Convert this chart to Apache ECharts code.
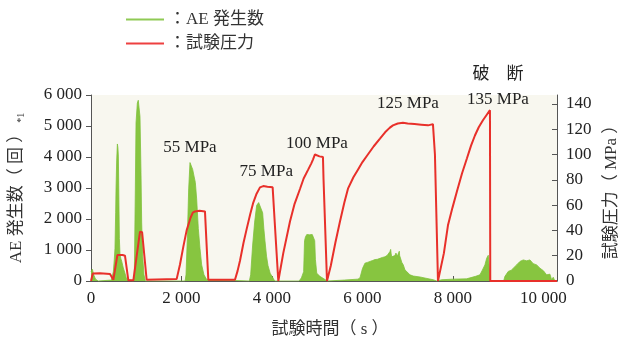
<!DOCTYPE html>
<html>
<head>
<meta charset="utf-8">
<script src="https://cdn.jsdelivr.net/npm/echarts@6/dist/echarts.min.js"></script>
<style>
  html, body { margin: 0; padding: 0; background: #ffffff; }
  #chart { width: 628px; height: 343px; }
</style>
</head>
<body>
<div id="chart"></div>
<script>
// AE event counts over the test (time in s, count)
const aeTime = [0, 30, 60, 100, 160, 450, 494, 515, 530, 545, 553, 568, 583, 595, 605, 615, 627, 641, 660, 678, 714, 751, 788, 820,
  940, 958, 980, 995, 1024, 1045, 1060, 1083, 1105, 1120, 1142, 1171, 1201,
  2080, 2100, 2129, 2159, 2188, 2217, 2247, 2276, 2306, 2335, 2372, 2409, 2446, 2497, 2556, 2600,
  3500, 3529, 3573, 3617, 3662, 3706, 3750, 3794, 3820, 3845, 3880, 3912, 3960, 4022, 4060,
  4600, 4650, 4700, 4720, 4740, 4770, 4800, 4830, 4860, 4890, 4920, 4945, 4960, 4990, 5060, 5170, 5220,
  5600, 5900, 5945, 6000, 6055, 6110, 6166, 6220, 6276, 6330, 6387, 6440, 6497, 6550, 6608, 6623, 6635, 6645, 6680, 6718,
  6740, 6755, 6770, 6777, 6795, 6814, 6822, 6829, 6870, 6903, 6939, 6976, 7050, 7123, 7271, 7400, 7566, 7640,
  7750, 8000, 8300, 8500, 8597, 8650, 8707, 8745, 8781, 8803, 8815, 8825,
  9120, 9149, 9223, 9290, 9333, 9407, 9481, 9554, 9628, 9702, 9775, 9850, 9886, 9923, 10000, 10033, 10070, 10107, 10144, 10181, 10217, 10254, 10300];
const aeCount = [300, 380, 200, 60, 0, 30, 300, 700, 1050, 2200, 2970, 3900, 4420, 4300, 4030, 2800, 1370, 850, 720, 640, 420, 250, 60, 0,
  0, 200, 2970, 5100, 5740, 5830, 5780, 5300, 3500, 1900, 800, 200, 0,
  0, 200, 1370, 2970, 3820, 3870, 3600, 3390, 3180, 2650, 1690, 1050, 520, 200, 50, 0,
  0, 200, 1160, 1900, 2440, 2530, 2520, 2200, 1700, 1300, 800, 500, 250, 100, 0,
  0, 100, 300, 1300, 1420, 1500, 1460, 1490, 1470, 1500, 1450, 1300, 700, 250, 150, 50, 0,
  30, 60, 100, 400, 575, 600, 630, 660, 690, 700, 730, 760, 780, 830, 950, 1020, 880, 780, 830, 820,
  900, 960, 800, 780, 850, 960, 820, 780, 600, 520, 360, 330, 200, 160, 130, 90, 40, 0,
  40, 60, 70, 150, 200, 350, 520, 730, 830, 840, 800, 0,
  0, 150, 310, 350, 380, 520, 630, 680, 650, 680, 560, 520, 480, 415, 330, 300, 200, 200, 220, 40, 120, 0, 0];

// Applied test pressure (time in s, MPa)
const pressTime = [0, 40, 199, 420, 494, 530, 583, 700, 751, 825, 936, 1083, 1130, 1171, 1230,
  1893, 1967, 2040, 2114, 2200, 2250, 2298, 2400, 2519, 2593,
  3182, 3240, 3293, 3370, 3440, 3520, 3587, 3660, 3735, 3808, 3900, 4015, 4044, 4060, 4140,
  4155, 4250, 4398, 4500, 4619, 4700, 4800, 4870, 4906, 4950, 5050, 5127, 5140, 5216,
  5238, 5300, 5400, 5503, 5600, 5680, 5800, 5900, 6000, 6100, 6250, 6387, 6500, 6600, 6674, 6780, 6895,
  7000, 7150, 7300, 7450, 7558, 7602, 7669,
  7713, 7800, 7890, 7990, 8089, 8200, 8310, 8400, 8486, 8570, 8663, 8740, 8818, 8825, 10300];
const pressValue = [0, 6, 6.2, 5.5, 1, 1, 20.5, 20.5, 20, 0.5, 0.5, 39, 38.5, 37.5, 1,
  1.5, 13, 27, 40, 50, 54, 55, 55.5, 55, 1,
  1, 8, 16, 30, 41, 53, 62, 69, 74, 75, 74.5, 74, 73, 47, 0,
  0, 22, 47, 61, 72.7, 81, 88, 93, 96, 100, 98.5, 98, 80, 0,
  0, 12, 30, 47, 62, 73, 82, 88, 94, 99, 106.5, 112.5, 117.5, 121, 123, 124.5, 125,
  124.5, 124, 123.5, 123, 124, 100, 0,
  0, 22, 44, 58, 71, 85, 97, 107, 115, 121.5, 127, 131, 135, 0, 0];

// Pressure steps annotated on the curve
const peakTime = [2298, 3808, 4950, 6895, 8818];
const peakValue = [55, 75, 100, 125, 135];
const breakText = '破　断';

// Axis ticks
const xTicks = [0, 2000, 4000, 6000, 8000, 10000];
const leftTicks = [0, 1000, 2000, 3000, 4000, 5000, 6000];
const rightTicks = [0, 20, 40, 60, 80, 100, 120, 140];

// Annotation placement relative to each peak (px)
const peakLabelOffset = [[-5, -64], [3, -15], [2, -11], [5, -19], [8, -11]];
const breakLabelOffset = [8, -36];

const SERIF = "'Liberation Serif', 'Noto Sans CJK JP', serif";
const fmtThousands = v => String(v).replace(/\B(?=(\d{3})+(?!\d))/g, ' ');

const chart = echarts.init(document.getElementById('chart'), null, { renderer: 'canvas' });

const peakMarks = peakTime.map((t, i) => ({
  coord: [t, peakValue[i]],
  value: peakValue[i],
  label: { offset: peakLabelOffset[i], formatter: peakValue[i] + ' MPa' }
}));
peakMarks.push({
  coord: [peakTime[peakTime.length - 1], peakValue[peakValue.length - 1]],
  value: peakValue[peakValue.length - 1],
  label: { offset: breakLabelOffset, formatter: breakText }
});

chart.setOption({
  animation: false,
  backgroundColor: '#ffffff',
  textStyle: { fontFamily: SERIF },
  legend: {
    orient: 'vertical',
    left: 121,
    top: 6,
    itemWidth: 38,
    itemHeight: 2,
    itemGap: 7,
    icon: 'rect',
    textStyle: { fontFamily: SERIF, fontSize: 17, color: '#333', lineHeight: 17 },
    formatter: name => '：' + name,
    data: [
      { name: 'AE 発生数', itemStyle: { color: '#8fca55' } },
      { name: '試験圧力', itemStyle: { color: '#ee4040' } }
    ]
  },
  grid: {
    left: 91, right: 71, top: 95, bottom: 60,
    show: true, borderWidth: 0, backgroundColor: '#f8f7ef'
  },
  xAxis: {
    type: 'value',
    min: 0, max: 10300,
    name: '試験時間（ s ）',
    nameLocation: 'middle',
    nameGap: 40,
    nameTextStyle: { fontFamily: SERIF, fontSize: 17, color: '#333', padding: [0, 0, 0, 12] },
    axisLine: { show: true, lineStyle: { color: '#555', width: 1 } },
    axisTick: { show: true, inside: true, length: 5, customValues: xTicks, lineStyle: { color: '#555' } },
    axisLabel: { customValues: xTicks, formatter: fmtThousands, fontFamily: SERIF, fontSize: 17, color: '#222', margin: 9 },
    splitLine: { show: false }
  },
  yAxis: [
    {
      type: 'value',
      min: 0, max: 6000,
      position: 'left',
      name: '{a|AE 発生数（ 回 ）}{s|*1}',
      nameLocation: 'middle',
      nameRotate: 90,
      nameGap: 64,
      nameTextStyle: {
        rich: {
          a: { fontFamily: SERIF, fontSize: 17, color: '#333', lineHeight: 20 },
          s: { fontFamily: SERIF, fontSize: 10, color: '#333', lineHeight: 20, padding: [8, 0, 0, 3] }
        }
      },
      axisLine: { show: true, lineStyle: { color: '#555', width: 1 } },
      axisTick: { show: true, inside: false, length: 5, customValues: leftTicks, lineStyle: { color: '#555' } },
      axisLabel: { customValues: leftTicks, formatter: fmtThousands, fontFamily: SERIF, fontSize: 17, color: '#222', margin: 9 },
      splitLine: { show: false }
    },
    {
      type: 'value',
      min: 0, max: 147,
      position: 'right',
      name: '試験圧力（ MPa ）',
      nameLocation: 'middle',
      nameRotate: 90,
      nameGap: 46,
      nameTextStyle: { fontFamily: SERIF, fontSize: 17, color: '#333' },
      axisLine: { show: true, lineStyle: { color: '#555', width: 1 } },
      axisTick: { show: true, inside: true, length: 5, customValues: rightTicks, lineStyle: { color: '#555' } },
      axisLabel: { customValues: rightTicks, fontFamily: SERIF, fontSize: 17, color: '#222', margin: 9 },
      splitLine: { show: false }
    }
  ],
  series: [
    {
      name: 'AE 発生数',
      type: 'line',
      yAxisIndex: 0,
      data: aeTime.map((t, i) => [t, aeCount[i]]),
      symbol: 'none',
      lineStyle: { color: '#80c23c', width: 0.8 },
      areaStyle: { color: '#87c540', opacity: 1 },
      itemStyle: { color: '#8fca55' },
      z: 2
    },
    {
      name: '試験圧力',
      type: 'line',
      yAxisIndex: 1,
      data: pressTime.map((t, i) => [t, pressValue[i]]),
      symbol: 'none',
      lineStyle: { color: '#e8302a', width: 2 },
      itemStyle: { color: '#ee4040' },
      z: 3,
      markPoint: {
        symbol: 'circle',
        symbolSize: 0,
        silent: true,
        label: {
          show: true,
          position: 'inside',
          fontFamily: SERIF,
          fontSize: 17,
          color: '#222'
        },
        data: peakMarks
      }
    }
  ]
});
</script>
</body>
</html>
